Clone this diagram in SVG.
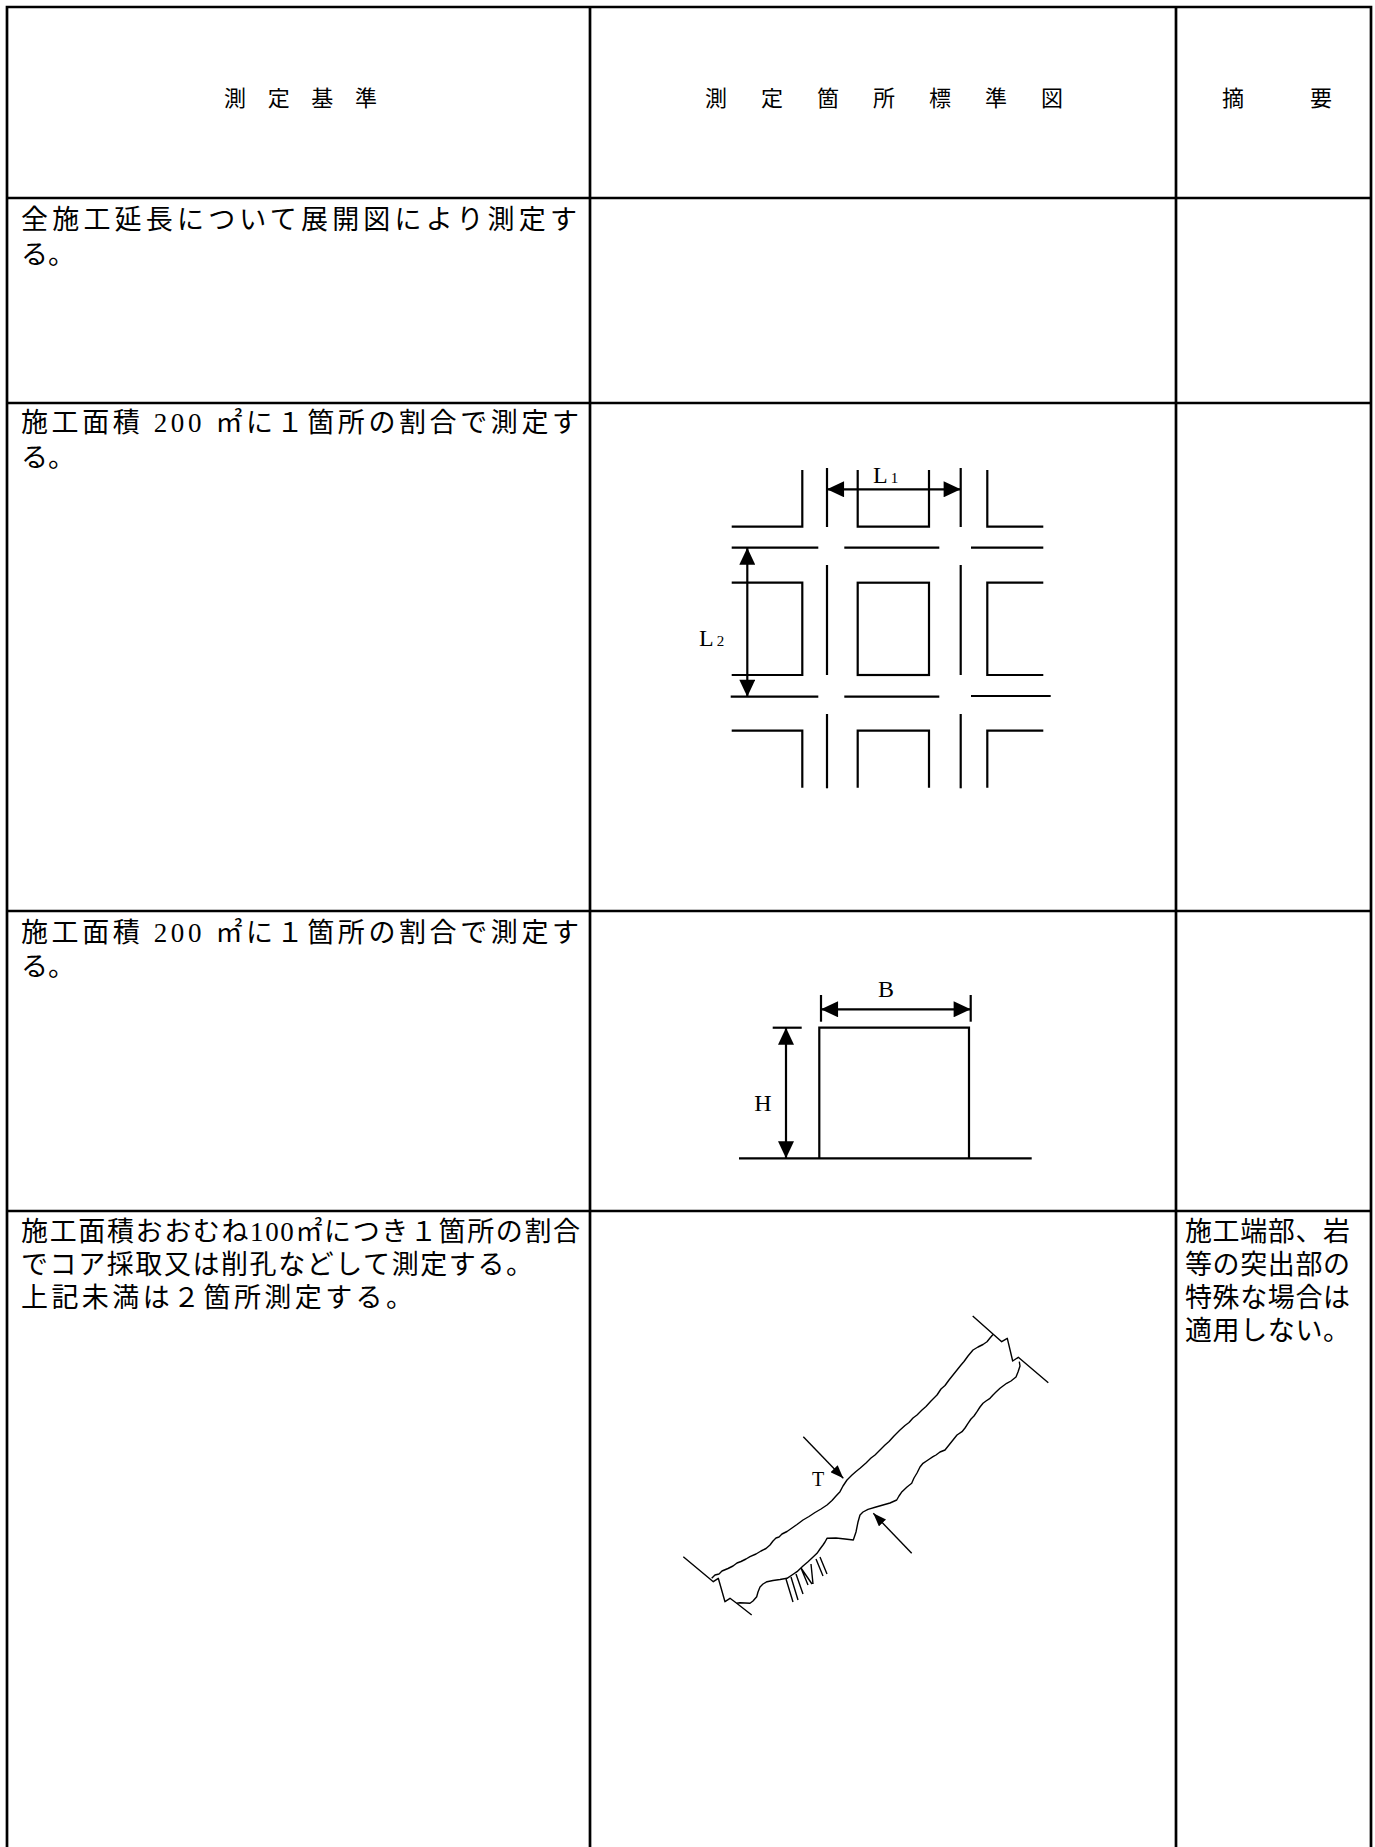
<svg xmlns="http://www.w3.org/2000/svg" width="1375" height="1847" viewBox="0 0 1375 1847">
<style>
.tb{stroke:#000;stroke-width:2.7;fill:none}
.fg{stroke:#000;stroke-width:2.2;fill:none}
.sl{stroke:#000;stroke-width:1.4;fill:none;stroke-linejoin:round}
.jp{font-family:"Liberation Serif","Noto Sans CJK JP",serif;font-size:27px;fill:#000}
.hd{font-family:"Noto Sans CJK JP",sans-serif;font-size:22px;fill:#000}
.lt{font-family:"Liberation Serif",serif;fill:#000}
</style>
<defs>
<marker id="ah" markerUnits="userSpaceOnUse" markerWidth="18" markerHeight="16" refX="16" refY="7.5" orient="auto-start-reverse" viewBox="0 0 16 15">
<path d="M0,0 L16,7.5 L0,15 Z" fill="#000"/>
</marker>
<marker id="as" markerUnits="userSpaceOnUse" markerWidth="14" markerHeight="10" refX="12" refY="4.5" orient="auto" viewBox="0 0 12 9">
<path d="M0,0 L12,4.5 L0,9 Z" fill="#000"/>
</marker>
</defs>
<rect width="1375" height="1847" fill="#fff"/>

<g id="table">
<path class="tb" d="M7,1847 V7 H1371 V1847"/>
<line class="tb" x1="590" y1="7" x2="590" y2="1847"/>
<line class="tb" x1="1176" y1="7" x2="1176" y2="1847"/>
<line class="tb" x1="7" y1="198" x2="1371" y2="198"/>
<line class="tb" x1="7" y1="403" x2="1371" y2="403"/>
<line class="tb" x1="7" y1="911" x2="1371" y2="911"/>
<line class="tb" x1="7" y1="1211" x2="1371" y2="1211"/>
</g>

<g id="header">
<text class="hd" y="106"><tspan x="224">測</tspan><tspan x="267.7">定</tspan><tspan x="311.3">基</tspan><tspan x="355">準</tspan></text>
<text class="hd" y="106"><tspan x="705">測</tspan><tspan x="761">定</tspan><tspan x="817">箇</tspan><tspan x="873">所</tspan><tspan x="929">標</tspan><tspan x="985">準</tspan><tspan x="1041">図</tspan></text>
<text class="hd" y="106"><tspan x="1222">摘</tspan><tspan x="1310">要</tspan></text>
</g>

<g id="row1">
<text class="jp" x="21" y="229" textLength="556" lengthAdjust="spacing">全施工延長について展開図により測定す</text>
<text class="jp" x="21" y="264">る。</text>
</g>

<g id="row2">
<text class="jp" x="21" y="432" textLength="558" lengthAdjust="spacing">施工面積 200 ㎡に１箇所の割合で測定す</text>
<text class="jp" x="21" y="467">る。</text>
</g>

<g id="fig-grid">
<path class="fg" d="M731.7,526.7 H802.3 V470"/>
<line class="fg" x1="827" y1="468" x2="827" y2="527"/>
<path class="fg" d="M857.7,470 V526.7 H929 V470"/>
<line class="fg" x1="960.7" y1="468" x2="960.7" y2="527"/>
<path class="fg" d="M987.3,470 V526.7 H1043.3"/>
<line class="fg" x1="731.7" y1="547.7" x2="818.3" y2="547.7"/>
<line class="fg" x1="844.3" y1="547.7" x2="939.3" y2="547.7"/>
<line class="fg" x1="971" y1="547.7" x2="1043.3" y2="547.7"/>
<path class="fg" d="M731.7,582.7 H802.3 V675 H731.7"/>
<line class="fg" x1="827" y1="565" x2="827" y2="675"/>
<rect class="fg" x="857.7" y="582.7" width="71.3" height="92.3"/>
<line class="fg" x1="960.7" y1="565" x2="960.7" y2="675"/>
<path class="fg" d="M1043.3,582.7 H987.3 V675 H1043.3"/>
<line class="fg" x1="730.7" y1="696.7" x2="818.3" y2="696.7"/>
<line class="fg" x1="844.3" y1="696.7" x2="939.3" y2="696.7"/>
<line class="fg" x1="971" y1="696" x2="1050.7" y2="696"/>
<line class="fg" x1="827" y1="714" x2="827" y2="788.3"/>
<line class="fg" x1="960.7" y1="714" x2="960.7" y2="788.3"/>
<path class="fg" d="M731.7,730.7 H802.3 V787.7"/>
<path class="fg" d="M857.7,787.7 V730.7 H929 V787.7"/>
<path class="fg" d="M1043.3,730.7 H987.3 V787.7"/>
<text class="lt" x="873" y="483" font-size="24">L<tspan font-size="15" dx="3">1</tspan></text>
<text class="lt" x="699" y="646" font-size="24">L<tspan font-size="15" dx="3">2</tspan></text>
</g>

<g id="row3">
<text class="jp" x="21" y="942" textLength="558" lengthAdjust="spacing">施工面積 200 ㎡に１箇所の割合で測定す</text>
<text class="jp" x="21" y="976">る。</text>
</g>

<g id="fig-box">
<line class="fg" x1="739" y1="1158.3" x2="1031.7" y2="1158.3"/>
<path class="fg" d="M819.3,1158.3 V1027.7 H969 V1158.3"/>
<line class="fg" x1="772.7" y1="1027.7" x2="801.7" y2="1027.7" stroke-width="1.4"/>
<line class="fg" x1="821" y1="995" x2="821" y2="1021.7" stroke-width="1.4"/>
<line class="fg" x1="970.7" y1="995" x2="970.7" y2="1021.7" stroke-width="1.4"/>
<text class="lt" x="886" y="997" font-size="24" text-anchor="middle">B</text>
<text class="lt" x="763" y="1111" font-size="24" text-anchor="middle">H</text>
</g>

<g id="row4">
<text class="jp" x="21" y="1241" textLength="559" lengthAdjust="spacing">施工面積おおむね100㎡につき１箇所の割合</text>
<text class="jp" x="21" y="1274" textLength="512" lengthAdjust="spacing">でコア採取又は削孔などして測定する。</text>
<text class="jp" x="21" y="1307" textLength="392" lengthAdjust="spacing">上記未満は２箇所測定する。</text>
<text class="jp" x="1185" y="1241" textLength="165" lengthAdjust="spacing">施工端部、岩</text>
<text class="jp" x="1185" y="1274" textLength="165" lengthAdjust="spacing">等の突出部の</text>
<text class="jp" x="1185" y="1307" textLength="165" lengthAdjust="spacing">特殊な場合は</text>
<text class="jp" x="1185" y="1340" textLength="165" lengthAdjust="spacing">適用しない。</text>
</g>

<g id="fig-slope">
<path class="sl" d="M711.7,1578.3 L715,1575 L719,1574 L722,1571 L728,1568.5 L733,1566 L737,1563 L741,1561.5 L746,1559 L750,1556.7 L756,1554 L761,1551 L766,1548.5 L770,1545 L773,1541 L776,1538 L779,1537 L782,1534 L787,1531.5 L792,1528 L797,1524.5 L803,1520 L809,1516.5 L815,1512.5 L821,1509 L827,1505 L832,1500.5 L836,1496 L840,1491.7 L843,1486 L847,1480 L852,1475 L856,1471.5 L860,1468.3 L866,1463 L871,1458 L875,1455 L880,1450 L885,1445 L889,1441.5 L894,1436 L900,1430 L905,1425.5 L909,1422.5 L913,1418 L917,1415 L922,1410 L926,1406.5 L931,1401 L937,1395 L941,1389 L945,1385.5 L949,1380 L953,1375 L957,1370 L961,1365 L964,1361.5 L968,1356 L973,1350 L978,1347 L983,1344.5 L987,1341.7 L990,1338 L993,1334.5"/>
<path class="sl" d="M1019.3,1361.7 L1020,1366 L1018,1372 L1016,1377 L1011,1381 L1006.7,1383.3 L1003,1386 L1000,1388.3 L996,1392 L993,1395 L990,1398.3 L986,1401 L983,1403.3 L980,1407 L977,1411.7 L974,1416 L971,1419 L968,1423.3 L965,1428 L962,1431.7 L957,1435 L953,1440 L949,1445 L945,1450 L940,1452 L936,1455 L933,1456.7 L928,1460 L923,1463.3 L920,1467 L917,1473 L914,1478 L911.7,1483.3 L907,1487 L902,1491.7 L899,1496 L896.7,1500 L890,1503 L883,1505 L876,1507 L868,1509.3 L863,1512 L860,1515 L858,1522 L856,1532 L853.3,1540 L845,1539 L836,1538 L827,1538.3 L825,1542 L823,1545 L820,1549 L817,1553.3 L812,1558 L808,1561.7 L803,1566 L797,1571.7 L792,1575 L787,1578.3 L780,1579.5 L773,1580.5 L767,1581.7 L763,1584 L760,1587 L758,1592 L756.7,1596.7 L753,1601 L750,1603.3 L745,1603 L740,1602.7 L736.7,1603.3"/>
<path class="sl" d="M972.7,1316 L1001.7,1341.7 L1007.3,1338.3 L1012.7,1361 L1018.3,1357.3 L1048.3,1382.7"/>
<path class="sl" d="M683.3,1556.7 L713.3,1581.7 L718.3,1578.3 L725,1601.7 L730,1598.3 L736.7,1603.3 L751.7,1615"/>
<path class="sl" d="M786,1579 L793,1602 M791,1577 L798,1600 M796,1574 L803,1594 M801,1568 L808,1585 M801,1568 L812,1584 M811,1564 L813,1584 M816,1559 L823,1576 M820,1557 L827,1574"/>
<text class="lt" x="818" y="1486" font-size="20" text-anchor="middle">T</text>
</g>

<g id="connectors">
<line class="fg" x1="827" y1="489.3" x2="960.7" y2="489.3" marker-start="url(#ah)" marker-end="url(#ah)"/>
<line class="fg" x1="747.3" y1="547.7" x2="747.3" y2="696.7" marker-start="url(#ah)" marker-end="url(#ah)"/>
<line class="fg" x1="821" y1="1009.3" x2="970.7" y2="1009.3" marker-start="url(#ah)" marker-end="url(#ah)"/>
<line class="fg" x1="786" y1="1027.7" x2="786" y2="1158.3" marker-start="url(#ah)" marker-end="url(#ah)"/>
<line class="sl" x1="803.3" y1="1436.7" x2="843.3" y2="1478.3" marker-end="url(#as)"/>
<line class="sl" x1="911.7" y1="1553.3" x2="873.3" y2="1513.3" marker-end="url(#as)"/>
</g>
</svg>
